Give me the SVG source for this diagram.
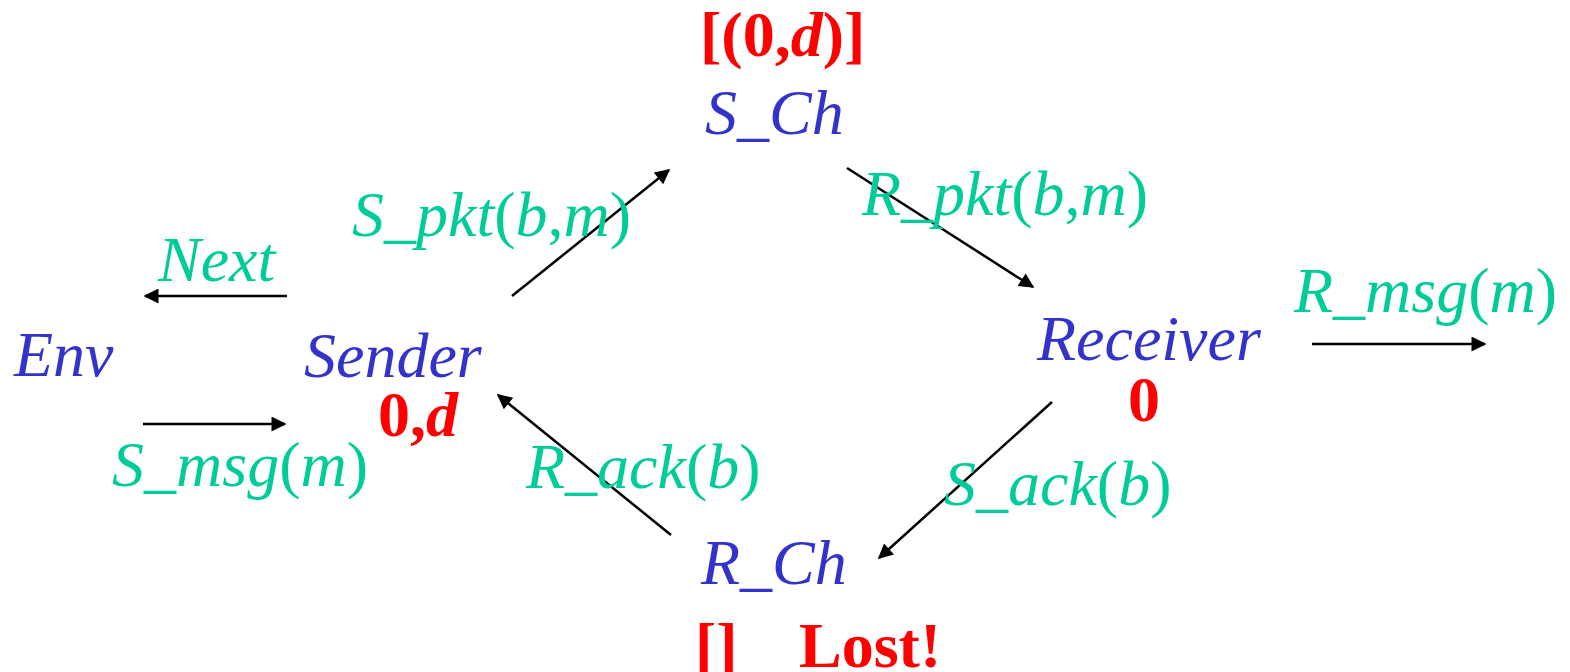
<svg xmlns="http://www.w3.org/2000/svg" width="1570" height="672" viewBox="0 0 1570 672">
<style>
text{font-family:"Liberation Serif","Times New Roman",serif;font-size:64px}
.node{fill:#3333CC;font-style:italic}
.lbl{fill:#00CC99;font-style:italic}
.up{font-style:normal}
.red{fill:#FF0000;font-weight:bold}
.it{font-style:italic}
.conn line{stroke:#000;stroke-width:2.5;marker-end:url(#ah)}
</style>
<defs>
<marker id="ah" viewBox="0 0 10 10" refX="9" refY="5" markerWidth="7" markerHeight="6" markerUnits="strokeWidth" orient="auto">
<path d="M0,0 L10,5 L0,10 z" fill="#000"/>
</marker>
</defs>
<rect width="1570" height="672" fill="#fff"/>
<g class="conn" id="connectors">
<line x1="287" y1="296" x2="145" y2="296"/>
<line x1="143" y1="424" x2="285" y2="424"/>
<line x1="512" y1="296" x2="669" y2="170"/>
<line x1="847" y1="168" x2="1033" y2="287"/>
<line x1="1312" y1="344" x2="1485" y2="344"/>
<line x1="1052" y1="402" x2="879" y2="558"/>
<line x1="671" y1="535" x2="498" y2="395"/>
</g>
<g id="labels">
<text class="lbl" x="158" y="281">Next</text>
<text class="lbl" x="112" y="486">S_msg<tspan class="up">(</tspan>m<tspan class="up">)</tspan></text>
<text class="lbl" x="352" y="236">S_pkt<tspan class="up">(</tspan>b<tspan class="up">,</tspan>m<tspan class="up">)</tspan></text>
<text class="lbl" x="862" y="215">R_pkt<tspan class="up">(</tspan>b<tspan class="up">,</tspan>m<tspan class="up">)</tspan></text>
<text class="lbl" x="1294" y="312">R_msg<tspan class="up">(</tspan>m<tspan class="up">)</tspan></text>
<text class="lbl" x="944" y="505">S_ack<tspan class="up">(</tspan>b<tspan class="up">)</tspan></text>
<text class="lbl" x="526" y="488">R_ack<tspan class="up">(</tspan>b<tspan class="up">)</tspan></text>
</g>
<g id="env"><text class="node" x="14" y="376">Env</text></g>
<g id="sender"><text class="node" x="304" y="377">Sender</text><text class="red" x="378" y="436">0,<tspan class="it">d</tspan></text></g>
<g id="s_ch"><text class="red" x="700" y="56">[(0,<tspan class="it">d</tspan>)]</text><text class="node" x="705" y="134">S_Ch</text></g>
<g id="receiver"><text class="node" x="1037" y="360">Receiver</text><text class="red" x="1128" y="421">0</text></g>
<g id="r_ch"><text class="node" x="701" y="584">R_Ch</text><text class="red" x="695" y="667">[]</text><text class="red" x="799" y="667">Lost!</text></g>
</svg>
